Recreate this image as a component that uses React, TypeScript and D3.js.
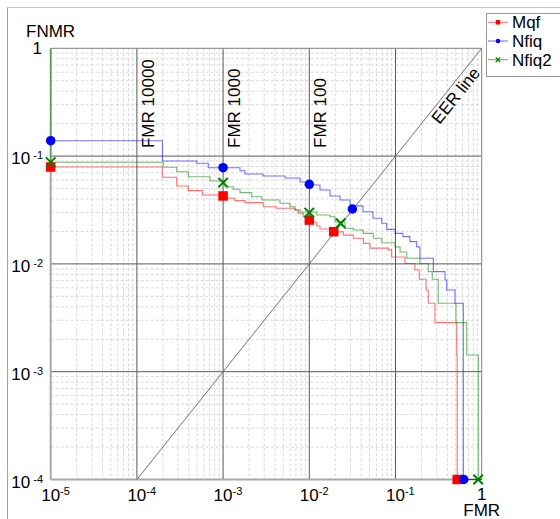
import React from "react";
import * as d3 from "d3";

const W = 560;
const H = 519;

// Tick values
const xMajorTicks = [1e-5, 1e-4, 1e-3, 1e-2, 1e-1, 1];
const xTickExp = ["-5", "-4", "-3", "-2", "-1", ""];
const yMajorTicks = [1e-4, 1e-3, 1e-2, 1e-1, 1];
const yTickExp = ["-4", "-3", "-2", "-1", ""];

// Vertical reference lines
const fmrRefValues = [1e-4, 1e-3, 1e-2];
const fmrRefLabels = ["FMR 10000", "FMR 1000", "FMR 100"];

// Series step data: [FMR, FNMR]
const mqfFmr = [1e-5, 1.97e-4, 2.9e-4, 3.95e-4, 5.74e-4, 1.1e-3, 1.37e-3, 1.79e-3, 2.92e-3, 4.18e-3, 6.82e-3, 7.45e-3, 8.51e-3, 0.0102, 0.0122, 0.0133, 0.0199, 0.0248, 0.0324, 0.0423, 0.0506, 0.0824, 0.0903, 0.129, 0.168, 0.189, 0.226, 0.24, 0.287, 0.513, 0.52, 1];
const mqfFnmr = [0.0792, 0.0636, 0.0528, 0.0478, 0.0436, 0.0406, 0.0386, 0.037, 0.0339, 0.0328, 0.0316, 0.0295, 0.0272, 0.0245, 0.0225, 0.0211, 0.0198, 0.0185, 0.0173, 0.0155, 0.014, 0.0135, 0.0116, 0.0101, 0.00878, 0.0072, 0.00573, 0.00431, 0.00285, 0.00143, 1e-4, 1e-4];

const nfiqFmr = [1e-5, 1.98e-4, 4.94e-4, 6.73e-4, 1.57e-3, 1.79e-3, 2.9e-3, 5.22e-3, 7.8e-3, 9.66e-3, 0.0133, 0.0174, 0.0227, 0.0297, 0.042, 0.0548, 0.0692, 0.0791, 0.0987, 0.122, 0.147, 0.176, 0.192, 0.275, 0.375, 0.393, 0.49, 0.612, 1];
const nfiqFnmr = [0.139, 0.09, 0.0858, 0.078, 0.0732, 0.0682, 0.0653, 0.0626, 0.0575, 0.0539, 0.0485, 0.0427, 0.0392, 0.0345, 0.0305, 0.0265, 0.0238, 0.0209, 0.0192, 0.0179, 0.0161, 0.0144, 0.0113, 0.00847, 0.0071, 0.00573, 0.00431, 1e-4, 1e-4];

const nfiq2Fmr = [1e-5, 1e-5, 2.02e-4, 2.9e-4, 3.95e-4, 7.05e-4, 1.05e-3, 1.31e-3, 1.57e-3, 2.15e-3, 2.81e-3, 4.57e-3, 5.97e-3, 6.82e-3, 7.8e-3, 0.0122, 0.0174, 0.0199, 0.0259, 0.0324, 0.0423, 0.0552, 0.0692, 0.0987, 0.113, 0.135, 0.192, 0.24, 0.267, 0.313, 0.503, 0.67, 0.914, 1];
const nfiq2Fnmr = [1, 0.0876, 0.0787, 0.0717, 0.0644, 0.0587, 0.052, 0.0492, 0.0458, 0.042, 0.0391, 0.0365, 0.0339, 0.0316, 0.0303, 0.0284, 0.0274, 0.0245, 0.0214, 0.0206, 0.0192, 0.0173, 0.0157, 0.0144, 0.0129, 0.0113, 0.0101, 0.00847, 0.0072, 0.00431, 0.00285, 0.00143, 1e-4, 1e-4];

// Markers: [FMR, FNMR]
const mqfMarkFmr = [1e-5, 1e-3, 1e-2, 0.0192, 0.52];
const mqfMarkFnmr = [0.0792, 0.0427, 0.0255, 0.0199, 1e-4];
const nfiqMarkFmr = [1e-5, 1e-3, 1e-2, 0.0316, 0.62];
const nfiqMarkFnmr = [0.139, 0.078, 0.0547, 0.0323, 1e-4];
const nfiq2MarkFmr = [1e-5, 1e-3, 1e-2, 0.0231, 0.91];
const nfiq2MarkFnmr = [0.088, 0.0567, 0.0299, 0.0238, 1e-4];

const seriesNames = ["Mqf", "Nfiq", "Nfiq2"];
const seriesColors = ["#ff0000", "#0000ff", "#008000"];
const seriesMarkers = ["square", "circle", "cross"];

const FONT = "'Liberation Sans', Arial, sans-serif";

function Marker({ type, cx, cy, color, size }: { type: string; cx: number; cy: number; color: string; size: number }) {
  if (type === "square") {
    return <rect x={cx - size / 2} y={cy - size / 2} width={size} height={size} fill={color} />;
  }
  if (type === "circle") {
    return <circle cx={cx} cy={cy} r={size / 2} fill={color} />;
  }
  const h = size / 2;
  return (
    <g stroke={color} strokeWidth={size > 6 ? 2 : 1.3}>
      <line x1={cx - h} y1={cy - h} x2={cx + h} y2={cy + h} />
      <line x1={cx - h} y1={cy + h} x2={cx + h} y2={cy - h} />
    </g>
  );
}

export default function App() {
  const x = d3.scaleLog().domain([1e-5, 1]).range([50.7, 481.7]);
  const y = d3.scaleLog().domain([1e-4, 1]).range([479.5, 48.3]);

  const minorX: number[] = [];
  for (let e = -5; e < 0; e++) for (let m = 2; m <= 9; m++) minorX.push(m * Math.pow(10, e));
  const minorY: number[] = [];
  for (let e = -4; e < 0; e++) for (let m = 2; m <= 9; m++) minorY.push(m * Math.pow(10, e));

  const line = d3
    .line<[number, number]>()
    .x((d) => x(d[0]))
    .y((d) => y(d[1]))
    .curve(d3.curveStepAfter);

  const series = [
    { fmr: mqfFmr, fnmr: mqfFnmr, mf: mqfMarkFmr, mn: mqfMarkFnmr },
    { fmr: nfiqFmr, fnmr: nfiqFnmr, mf: nfiqMarkFmr, mn: nfiqMarkFnmr },
    { fmr: nfiq2Fmr, fnmr: nfiq2Fnmr, mf: nfiq2MarkFmr, mn: nfiq2MarkFnmr },
  ];

  const [x0, x1] = x.range();
  const [y0, y1] = y.range();

  // EER line geometry
  const ex0 = x(1e-4), ey0 = y(1e-4), ex1 = x(1), ey1 = y(1);
  const ang = (Math.atan2(ey1 - ey0, ex1 - ex0) * 180) / Math.PI;
  const len = Math.hypot(ex1 - ex0, ey1 - ey0);
  const ux = (ex1 - ex0) / len, uy = (ey1 - ey0) / len;
  const nx = -uy, ny = ux; // normal pointing lower-right
  const tAlong = 20;
  const tOff = 15;
  const eerTx = ex1 - ux * tAlong + nx * tOff;
  const eerTy = ey1 - uy * tAlong + ny * tOff;

  return (
    <svg
      width={W}
      height={H}
      style={{ position: "fixed", left: 0, top: 0, background: "#fff" }}
      fontFamily={FONT}
    >
      <rect x={0} y={0} width={W} height={H} fill="#fff" />
      {/* outer frame */}
      <line x1={7.5} y1={7.5} x2={W} y2={7.5} stroke="#c8c8c8" />
      <line x1={7.5} y1={7.5} x2={7.5} y2={H} stroke="#a0a0a0" />

      {/* minor grid */}
      {minorX.map((v, i) => (
        <line key={"mx" + i} x1={x(v)} x2={x(v)} y1={y1} y2={y0} stroke="#d8d8d8" strokeDasharray="3,2" />
      ))}
      {minorY.map((v, i) => (
        <line key={"my" + i} x1={x0} x2={x1} y1={y(v)} y2={y(v)} stroke="#d8d8d8" strokeDasharray="3,2" />
      ))}
      {/* major grid */}
      {xMajorTicks.slice(1, -1).map((v, i) => (
        <line key={"Mx" + i} x1={x(v)} x2={x(v)} y1={y1} y2={y0} stroke="#5a5a5a" />
      ))}
      {yMajorTicks.slice(1, -1).map((v, i) => (
        <line key={"My" + i} x1={x0} x2={x1} y1={y(v)} y2={y(v)} stroke="#5a5a5a" />
      ))}
      {/* frame */}
      <line x1={x0} x2={x1} y1={y1} y2={y1} stroke="#808080" />
      <line x1={x1} x2={x1} y1={y1} y2={y0} stroke="#808080" />
      <line x1={x0} x2={x1} y1={y0} y2={y0} stroke="#a8a8a8" strokeWidth={2} />
      <line x1={x0} x2={x0} y1={y1} y2={y0} stroke="#a8a8a8" strokeWidth={2} />

      {/* EER line */}
      <line x1={ex0} y1={ey0} x2={ex1} y2={ey1} stroke="#707070" />
      <text
        x={eerTx}
        y={eerTy}
        fontSize={17}
        textAnchor="end"
        transform={`rotate(${ang} ${eerTx} ${eerTy})`}
      >
        EER line
      </text>

      {/* FMR reference labels */}
      {fmrRefValues.map((v, i) => {
        const tx = x(v) + 17;
        const ty = 148;
        return (
          <text key={"ref" + i} x={tx} y={ty} fontSize={17} transform={`rotate(-90 ${tx} ${ty})`}>
            {fmrRefLabels[i]}
          </text>
        );
      })}

      {/* curves */}
      {series.map((s, i) => (
        <path
          key={"c" + i}
          d={line(s.fmr.map((f, j) => [f, s.fnmr[j]] as [number, number])) || ""}
          fill="none"
          stroke={seriesColors[i]}
          strokeOpacity={0.55}
          strokeWidth={1.1}
        />
      ))}
      {/* markers */}
      {series.map((s, i) =>
        s.mf.map((f, j) => (
          <Marker key={"m" + i + "-" + j} type={seriesMarkers[i]} cx={x(f)} cy={y(s.mn[j])} color={seriesColors[i]} size={9.5} />
        ))
      )}

      {/* y axis labels */}
      {yMajorTicks.map((v, i) =>
        yTickExp[i] === "" ? (
          <text key={"yt" + i} x={42} y={y(v) + 6} fontSize={17} textAnchor="end">
            1
          </text>
        ) : (
          <text key={"yt" + i} x={43} y={y(v) + 8} fontSize={17} textAnchor="end">
            10
            <tspan fontSize={11} dy={-5}>{" " + yTickExp[i]}</tspan>
          </text>
        )
      )}
      <text x={26} y={37} fontSize={17}>FNMR</text>

      {/* x axis labels */}
      {xMajorTicks.map((v, i) =>
        xTickExp[i] === "" ? (
          <text key={"xt" + i} x={x(v)} y={500} fontSize={17} textAnchor="middle">
            1
          </text>
        ) : (
          <text key={"xt" + i} x={x(v) - 9.5} y={501} fontSize={17}>
            10
            <tspan fontSize={11} dy={-6}>{xTickExp[i]}</tspan>
          </text>
        )
      )}
      <text x={x(1)} y={516} fontSize={17} textAnchor="middle">FMR</text>

      {/* legend */}
      <rect x={486.5} y={13.5} width={80} height={63} fill="#fff" stroke="#999" />
      {seriesNames.map((n, i) => {
        const ly = 22.3 + i * 18.7;
        return (
          <g key={"lg" + i}>
            <line x1={488} x2={508} y1={ly} y2={ly} stroke={seriesColors[i]} strokeOpacity={0.6} />
            <Marker type={seriesMarkers[i]} cx={498} cy={ly} color={seriesColors[i]} size={4.5} />
            <text x={512} y={ly + 6} fontSize={17}>{n}</text>
          </g>
        );
      })}
    </svg>
  );
}
